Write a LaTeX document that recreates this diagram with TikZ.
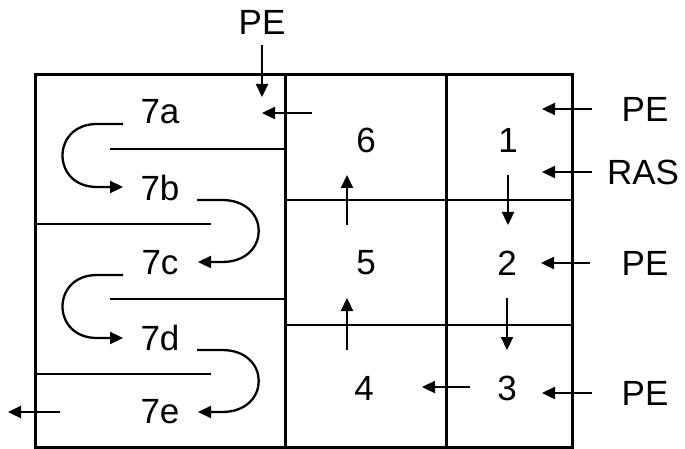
\documentclass[tikz,border=0pt]{standalone}
\usepackage{fontspec}
\setmainfont{Liberation Sans}
\usetikzlibrary{arrows.meta,calc}
\tikzset{
    wall/.style={line width=3pt,line cap=rect},
    baffle/.style={line width=2.8pt},
    flow/.style={-{Triangle[length=13pt,width=12pt]},line width=2.3pt},
    lbl/.style={font=\fontsize{35}{40}\selectfont,inner sep=0pt},
}
\begin{document}
\begin{tikzpicture}[x=1pt,y=-1pt]
\useasboundingbox (0,0) rectangle (685,449);
% tank walls
\draw[wall] (35,75) rectangle (572,447);
\draw[wall] (285,75) -- (285,447);
\draw[wall] (446,75) -- (446,447);
\draw[baffle] (285,200) -- (572,200);
\draw[baffle] (285,325) -- (572,325);
% baffles in cell 7
\draw[baffle] (110,149) -- (285,149);
\draw[baffle] (35,224) -- (211,224);
\draw[baffle] (110,299) -- (285,299);
\draw[baffle] (35,374) -- (211,374);

% cells
\node[lbl] (n1) at (508,140) {1};
\node[lbl] (n2) at (507,263) {2};
\node[lbl] (n3) at (507,388) {3};
\node[lbl] (n4) at (364,388) {4};
\node[lbl] (n5) at (366,263) {5};
\node[lbl] (n6) at (366,140) {6};
\node[lbl] (n7a) at (160,112) {7a};
\node[lbl] (n7b) at (160,188) {7b};
\node[lbl] (n7c) at (160,263) {7c};
\node[lbl] (n7d) at (160,338) {7d};
\node[lbl] (n7e) at (160,412) {7e};

% feeds
\node[lbl] (peTop) at (262,22) {PE};
\node[lbl] (peA) at (645,109) {PE};
\node[lbl] (ras) at (643,172) {RAS};
\node[lbl] (peB) at (645,263) {PE};
\node[lbl] (peC) at (645,393) {PE};

\coordinate (topS) at (262,45);  \coordinate (topE) at (262,97);
\coordinate (aS) at (592,109);   \coordinate (aE) at (542,109);
\coordinate (rS) at (592,172);   \coordinate (rE) at (542,172);
\coordinate (bS) at (590,263);   \coordinate (bE) at (541,263);
\coordinate (cS) at (592,393);   \coordinate (cE) at (542,393);
\draw[flow] (topS) -- (topE);
\draw[flow] (aS) -- (aE);
\draw[flow] (rS) -- (rE);
\draw[flow] (bS) -- (bE);
\draw[flow] (cS) -- (cE);

% flow between cells
\coordinate (d12S) at (508,175); \coordinate (d12E) at (508,225);
\coordinate (d23S) at (507,298); \coordinate (d23E) at (507,350);
\coordinate (d34S) at (470,387); \coordinate (d34E) at (422,387);
\coordinate (d45S) at (347,350); \coordinate (d45E) at (347,298);
\coordinate (d56S) at (347,225); \coordinate (d56E) at (347,175);
\coordinate (d67S) at (312,113); \coordinate (d67E) at (262,113);
\coordinate (outS) at (60,412);  \coordinate (outE) at (8,412);
\draw[flow] (d12S) -- (d12E);
\draw[flow] (d23S) -- (d23E);
\draw[flow] (d34S) -- (d34E);
\draw[flow] (d45S) -- (d45E);
\draw[flow] (d56S) -- (d56E);
\draw[flow] (d67S) -- (d67E);
\draw[flow] (outS) -- (outE);

% serpentine through 7a-7e
\coordinate (ab) at (123,124);  \coordinate (ba) at (123,187);
\coordinate (bc) at (197,200);  \coordinate (cb) at (198,262);
\coordinate (cd) at (123,275);  \coordinate (dc) at (123,338);
\coordinate (de) at (197,350);  \coordinate (ed) at (198,412);
\foreach \s/\e in {ab/ba,cd/dc}
  \draw[flow] (\s) -- ($(\s)+(-26,0)$)
    .. controls ($(\s)+(-72,0)$) and ($(\e)+(-72,0)$) .. ($(\e)+(-26,0)$) -- (\e);
\foreach \s/\e in {bc/cb,de/ed}
  \draw[flow] (\s) -- ($(\s)+(25,0)$)
    .. controls ($(\s)+(74,0)$) and ($(\e)+(73,0)$) .. ($(\e)+(24,0)$) -- (\e);
\end{tikzpicture}
\end{document}
